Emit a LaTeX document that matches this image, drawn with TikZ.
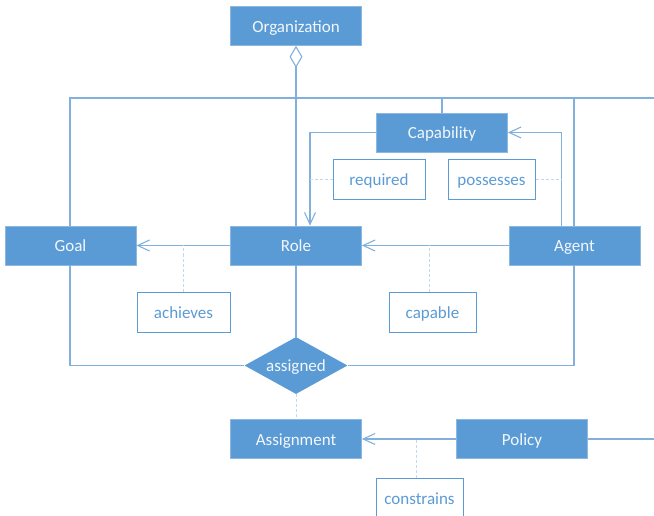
\documentclass[tikz,border=0pt]{standalone}
\usepackage{fontspec}
\setmainfont{Carlito}
\usetikzlibrary{arrows.meta,shapes.geometric}
\definecolor{boxfill}{HTML}{5B9BD5}
\definecolor{linec}{HTML}{82B0DD}
\definecolor{dotc}{HTML}{C3D8EE}
\definecolor{labc}{HTML}{5B9BD5}
\definecolor{txtc}{HTML}{F2F7FC}
\tikzset{
  ent/.style={rectangle, fill=boxfill, draw=boxfill!70!white, line width=0.6pt, text=txtc, minimum width=131pt, minimum height=39pt, inner sep=0pt, text height=12.5pt, text depth=0pt, font=\fontsize{17}{20}\selectfont},
  lab/.style={rectangle, fill=white, draw=labc, line width=1pt, text=labc, minimum height=40pt, inner sep=0pt, text height=12pt, text depth=0pt, font=\fontsize{17}{20}\selectfont},
  rel/.style={diamond, fill=boxfill, text=txtc, minimum width=103pt, minimum height=57pt, inner sep=0pt, aspect=1.8, text height=12pt, text depth=0pt, font=\fontsize{17}{20}\selectfont},
  conn/.style={draw=linec, line width=1.3pt},
  arr/.style={conn, -{Straight Barb[length=12pt,width=11pt,line width=1.1pt]}},
  dotl/.style={draw=dotc, line width=1pt, densely dashed},
}
\begin{document}
\begin{tikzpicture}[x=1pt,y=-1pt]
\useasboundingbox (0,0) rectangle (654,516);
% entities
\node[ent] (org) at (296,26) {Organization};
\node[ent] (cap) at (442,132.5) {Capability};
\node[ent] (goal) at (70.5,245.5) {Goal};
\node[ent] (role) at (296,245.5) {Role};
\node[ent] (agent) at (574.5,245.5) {Agent};
\node[ent] (asgn) at (296,439) {Assignment};
\node[ent] (pol) at (522,439) {Policy};
\node[rel] (asg) at (296,365.5) {assigned};
% labels
\node[lab, minimum width=92pt] (req) at (379,179.5) {required};
\node[lab, minimum width=87pt] (pos) at (491.5,179.5) {possesses};
\node[lab, minimum width=93pt] (ach) at (183.5,312) {achieves};
\node[lab, minimum width=87pt] (cpb) at (432.5,312) {capable};
\node[lab, minimum width=87pt] (con) at (419.5,498) {constrains};
% coordinates
\coordinate (topR) at (654,98);
\coordinate (polR) at (654,439);
\coordinate (rx) at (310,0);
\coordinate (ax) at (561.5,0);
\coordinate (gx) at (70,0);
\coordinate (agx) at (574,0);
% connectors
\draw[conn] (goal.north -| gx) |- (topR);
\draw[conn] (cap.north) -- (cap.north |- topR);
\draw[conn] (agent.north -| agx) -- (agx |- topR);
\draw[conn] (goal.south -| gx) |- (asg.west);
\draw[conn] (agent.south -| agx) |- (asg.east);
\draw[conn] (role.south) -- (asg.north);
\draw[conn, {Diamond[open,length=22pt,width=13pt,line width=1.1pt]}-] (org.south) -- (role.north);
\draw[arr] (cap.west) -| (role.north -| rx);
\draw[arr] (agent.north -| ax) |- (cap.east);
\draw[arr] (role.west) -- (goal.east);
\draw[arr] (agent.west) -- (role.east);
\draw[arr] (pol.west) -- (asgn.east);
\draw[conn] (pol.east) -- (polR);
% dotted label links
\draw[dotl] (req.west) -- (req.west -| rx);
\draw[dotl] (pos.east) -- (pos.east -| ax);
\draw[dotl] (ach.north) -- (ach.north |- role.west);
\draw[dotl] (cpb.north -| 429,0) -- (429,245.5);
\draw[dotl] (con.north -| 416,0) -- (416,439);
\draw[dotl] (asg.south) -- (asgn.north);
\end{tikzpicture}
\end{document}
